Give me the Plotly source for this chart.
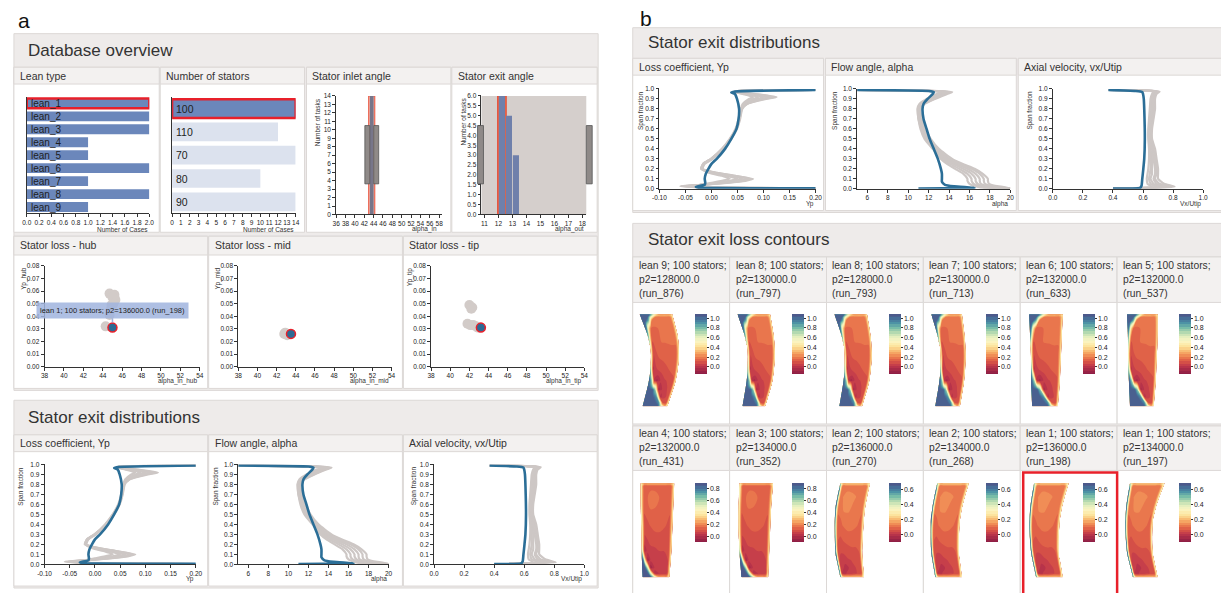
import numpy as np
import plotly.graph_objects as go

W, H = 1221, 593
FONT = "Liberation Sans, Arial, Helvetica, sans-serif"
TXT = "#333333"
RED = "#e8202a"

# ============================ DATA ============================
lean_types = ["lean_1", "lean_2", "lean_3", "lean_4", "lean_5", "lean_6", "lean_7", "lean_8", "lean_9"]
lean_case_counts = [2, 2, 2, 1, 1, 2, 1, 2, 1]
selected_lean = "lean_1"

stator_numbers = ["100", "110", "70", "80", "90"]
stator_case_counts = [14, 12, 14, 10, 14]
selected_stators = "100"

inlet_bin_centres = [43.6]
inlet_task_counts = [14]
exit_bin_centres = [12.25, 12.75, 13.25]
exit_task_counts = [6, 5, 3]
selected_exit_bin = 12.25

hub_alpha_in = [44.3, 44.7, 45.2, 45.3, 44.9, 44.7, 44.8, 45.0, 45.1]
hub_yp = [0.032, 0.058, 0.057, 0.053, 0.049, 0.041, 0.045, 0.055, 0.050]
mid_alpha_in = [42.8, 43.0, 43.2, 42.9, 43.1, 43.3]
mid_yp = [0.026, 0.026, 0.026, 0.027, 0.025, 0.026]
tip_alpha_in = [42.0, 42.3, 42.2, 41.8, 42.1, 42.4, 42.7, 42.9]
tip_yp = [0.049, 0.047, 0.046, 0.034, 0.033, 0.033, 0.032, 0.031]
sel_hub = [45.0, 0.031]
sel_mid = [43.5, 0.026]
sel_tip = [43.2, 0.031]
sel_label = "lean 1; 100 stators; p2=136000.0 (run_198)"

# Stator exit distributions (span fraction vs quantity)
yp_span_sel = [0.005, 0.012, 0.02, 0.04, 0.06, 0.1, 0.15, 0.2, 0.25, 0.3, 0.4, 0.5, 0.6, 0.7, 0.8, 0.9, 0.95, 0.965, 0.975, 0.99]
yp_sel = [0.20, -0.025, -0.03, -0.013, -0.012, -0.013, -0.011, -0.006, 0.0, 0.01, 0.026, 0.038, 0.048, 0.052, 0.053, 0.049, 0.045, 0.038, 0.045, 0.20]
yp_span_oth = [0.003, 0.015, 0.025, 0.04, 0.06, 0.08, 0.1, 0.13, 0.16, 0.2, 0.25, 0.3, 0.4, 0.5, 0.6, 0.7, 0.8, 0.85, 0.9, 0.92, 0.95, 0.97, 0.98, 0.99]
yp_oth = [
    [0.20, -0.02, -0.06, -0.02, 0.03, 0.065, 0.08, 0.045, 0.01, -0.02, -0.015, 0.0, 0.022, 0.037, 0.048, 0.054, 0.058, 0.068, 0.105, 0.125, 0.085, 0.045, 0.05, 0.20],
    [0.20, -0.02, -0.055, -0.02, 0.025, 0.06, 0.075, 0.045, 0.01, -0.018, -0.013, 0.002, 0.023, 0.038, 0.049, 0.055, 0.059, 0.068, 0.10, 0.12, 0.08, 0.045, 0.05, 0.20],
    [0.20, -0.02, -0.05, -0.02, 0.02, 0.055, 0.07, 0.04, 0.005, -0.02, -0.016, -0.001, 0.021, 0.036, 0.047, 0.053, 0.057, 0.065, 0.095, 0.11, 0.075, 0.045, 0.05, 0.20],
    [0.20, -0.02, -0.045, -0.02, 0.015, 0.045, 0.06, 0.035, 0.005, -0.017, -0.014, 0.001, 0.022, 0.037, 0.048, 0.054, 0.058, 0.064, 0.088, 0.10, 0.07, 0.045, 0.05, 0.20],
    [0.20, -0.02, -0.04, -0.02, 0.01, 0.035, 0.05, 0.03, 0.0, -0.018, -0.015, 0.0, 0.021, 0.036, 0.047, 0.053, 0.057, 0.062, 0.08, 0.09, 0.065, 0.045, 0.05, 0.20],
    [0.20, -0.02, -0.035, -0.02, 0.0, 0.02, 0.035, 0.02, -0.005, -0.019, -0.016, -0.001, 0.02, 0.035, 0.046, 0.052, 0.056, 0.06, 0.072, 0.08, 0.06, 0.045, 0.05, 0.20],
]

al_span_sel = [0.003, 0.01, 0.025, 0.04, 0.07, 0.1, 0.15, 0.2, 0.3, 0.4, 0.5, 0.6, 0.7, 0.8, 0.85, 0.9, 0.95, 0.97, 0.98, 0.99]
al_sel = [11.0, 16.5, 14.5, 13.6, 13.3, 13.3, 13.3, 13.2, 12.9, 12.5, 12.1, 11.8, 11.5, 11.4, 11.5, 11.9, 12.4, 12.5, 12.0, 5.0]
al_span_oth = [0.003, 0.015, 0.03, 0.05, 0.08, 0.1, 0.15, 0.2, 0.25, 0.3, 0.4, 0.5, 0.6, 0.7, 0.8, 0.85, 0.9, 0.95, 0.97, 0.98, 0.99]
al_oth = [
    [20.0, 19.5, 18.5, 17.9, 17.8, 17.8, 17.3, 16.5, 15.3, 14.3, 13.0, 12.2, 11.7, 11.3, 11.2, 11.6, 12.6, 13.8, 14.3, 13.0, 5.0],
    [20.0, 19.0, 18.0, 17.5, 17.4, 17.4, 17.0, 16.2, 15.0, 14.0, 12.8, 12.0, 11.6, 11.2, 11.1, 11.5, 12.5, 13.6, 14.1, 12.8, 5.0],
    [20.0, 18.5, 17.6, 17.1, 17.0, 17.0, 16.6, 15.8, 14.7, 13.8, 12.7, 11.9, 11.5, 11.2, 11.1, 11.4, 12.3, 13.4, 13.9, 12.6, 5.0],
    [19.5, 18.0, 17.2, 16.8, 16.6, 16.6, 16.2, 15.4, 14.4, 13.6, 12.6, 11.8, 11.4, 11.1, 11.0, 11.3, 12.1, 13.2, 13.7, 12.5, 5.0],
    [19.0, 17.5, 16.8, 16.4, 16.2, 16.2, 15.8, 15.0, 14.1, 13.4, 12.5, 11.7, 11.3, 11.0, 11.0, 11.2, 11.9, 13.0, 13.5, 12.4, 5.0],
    [18.5, 17.0, 16.4, 16.0, 15.8, 15.8, 15.4, 14.6, 13.8, 13.2, 12.4, 11.6, 11.2, 11.0, 10.9, 11.1, 11.8, 12.8, 13.3, 12.3, 5.0],
]

vx_span_sel = [0.003, 0.008, 0.03, 0.1, 0.2, 0.3, 0.5, 0.7, 0.9, 0.95, 0.97, 0.98, 0.99]
vx_sel = [0.40, 0.58, 0.59, 0.595, 0.602, 0.608, 0.612, 0.61, 0.605, 0.60, 0.595, 0.55, 0.37]
vx_span_oth = [0.003, 0.02, 0.05, 0.1, 0.15, 0.2, 0.3, 0.4, 0.5, 0.6, 0.7, 0.8, 0.9, 0.95, 0.975, 0.985, 0.99]
vx_oth = [
    [0.40, 0.81, 0.74, 0.70, 0.70, 0.70, 0.69, 0.68, 0.66, 0.66, 0.67, 0.68, 0.68, 0.69, 0.71, 0.62, 0.37],
    [0.40, 0.78, 0.71, 0.68, 0.69, 0.69, 0.68, 0.67, 0.655, 0.655, 0.665, 0.67, 0.675, 0.685, 0.70, 0.61, 0.37],
    [0.40, 0.75, 0.69, 0.67, 0.68, 0.68, 0.67, 0.66, 0.65, 0.65, 0.66, 0.665, 0.67, 0.68, 0.69, 0.61, 0.37],
    [0.40, 0.72, 0.67, 0.65, 0.66, 0.66, 0.66, 0.65, 0.645, 0.645, 0.655, 0.66, 0.665, 0.675, 0.685, 0.60, 0.37],
    [0.40, 0.69, 0.65, 0.64, 0.645, 0.65, 0.65, 0.645, 0.64, 0.64, 0.65, 0.655, 0.66, 0.67, 0.68, 0.60, 0.37],
    [0.40, 0.66, 0.63, 0.625, 0.63, 0.635, 0.64, 0.64, 0.635, 0.635, 0.64, 0.645, 0.65, 0.66, 0.675, 0.60, 0.37],
]

# Stator exit loss contours
case_lean = [9, 8, 8, 7, 6, 5, 4, 3, 2, 2, 1, 1]
case_p2 = [128000.0, 130000.0, 128000.0, 130000.0, 132000.0, 132000.0,
           132000.0, 134000.0, 136000.0, 134000.0, 136000.0, 134000.0]
case_run = ["run_876", "run_797", "run_793", "run_713", "run_633", "run_537",
            "run_431", "run_352", "run_270", "run_268", "run_198", "run_197"]
case_stators = 100
selected_run = "run_198"
case_field = ["corner"] * 6 + ["hub"] * 2 + ["clean"] * 4

pitch = [0, 0.04, 0.1, 0.2, 0.3, 0.45, 0.6, 0.75, 0.9, 0.96, 1.0]
span = [0, 0.04, 0.1, 0.18, 0.28, 0.4, 0.55, 0.7, 0.85, 0.93, 0.97, 1.0]
loss_corner = [
    [1.05, 1.05, 1.05, 1.05, 1.05, 1.05, 1.05, 0.6, 0.3, 0.4, 0.55],
    [1.05, 1.05, 1.05, 1.05, 1.05, 1.05, 0.9, 0.1, 0.08, 0.3, 0.5],
    [1.05, 1.05, 1.05, 1.05, 1.05, 0.9, 0.0, 0.05, 0.08, 0.3, 0.5],
    [1.05, 1.05, 1.05, 1.05, 0.8, -0.05, 0.03, 0.06, 0.09, 0.3, 0.5],
    [1.05, 0.95, 0.75, 0.0, -0.05, 0.03, 0.06, 0.07, 0.1, 0.3, 0.5],
    [0.9, 0.5, 0.0, 0.05, 0.07, 0.08, 0.1, 0.12, 0.13, 0.3, 0.5],
    [0.6, 0.3, 0.06, 0.1, 0.12, 0.13, 0.14, 0.15, 0.15, 0.3, 0.5],
    [0.8, 0.45, 0.1, 0.14, 0.15, 0.16, 0.16, 0.16, 0.16, 0.3, 0.5],
    [1.05, 0.95, 0.5, 0.14, 0.15, 0.16, 0.16, 0.16, 0.16, 0.3, 0.5],
    [1.05, 1.05, 1.05, 0.8, 0.2, 0.16, 0.16, 0.16, 0.16, 0.3, 0.5],
    [1.05, 1.05, 1.05, 1.05, 0.6, 0.2, 0.2, 0.2, 0.2, 0.3, 0.5],
    [1.05, 1.05, 1.05, 1.05, 1.05, 0.6, 0.35, 0.35, 0.35, 0.4, 0.5],
]
loss_hub = [
    [0.88, 0.88, 0.88, 0.88, 0.85, 0.5, 0.25, 0.25, 0.25, 0.3, 0.4],
    [0.88, 0.88, 0.88, 0.85, 0.5, 0.02, 0.03, 0.04, 0.05, 0.25, 0.4],
    [0.88, 0.88, 0.85, 0.5, -0.04, 0.04, 0.05, 0.05, 0.06, 0.25, 0.4],
    [0.88, 0.8, 0.4, -0.04, 0.04, 0.05, 0.06, 0.06, 0.07, 0.25, 0.4],
    [0.65, 0.35, 0.0, 0.05, 0.06, 0.06, 0.07, 0.07, 0.08, 0.25, 0.4],
    [0.5, 0.3, 0.06, 0.07, 0.08, 0.09, 0.09, 0.09, 0.09, 0.25, 0.4],
    [0.5, 0.3, 0.09, 0.1, 0.11, 0.12, 0.12, 0.11, 0.1, 0.25, 0.4],
    [0.5, 0.3, 0.11, 0.12, 0.14, 0.14, 0.13, 0.12, 0.11, 0.25, 0.4],
    [0.5, 0.3, 0.12, 0.14, 0.17, 0.16, 0.14, 0.13, 0.12, 0.25, 0.4],
    [0.5, 0.3, 0.12, 0.13, 0.14, 0.14, 0.13, 0.12, 0.12, 0.25, 0.4],
    [0.5, 0.3, 0.12, 0.12, 0.12, 0.12, 0.12, 0.12, 0.12, 0.25, 0.4],
    [0.45, 0.35, 0.3, 0.3, 0.3, 0.3, 0.3, 0.3, 0.3, 0.35, 0.4],
]
loss_clean = [
    [0.6, 0.4, 0.25, 0.2, 0.2, 0.2, 0.2, 0.2, 0.2, 0.25, 0.35],
    [0.65, 0.3, 0.0, -0.02, 0.0, 0.0, 0.02, 0.03, 0.04, 0.2, 0.35],
    [0.68, 0.3, 0.02, 0.0, -0.02, 0.0, 0.02, 0.03, 0.04, 0.2, 0.35],
    [0.68, 0.3, 0.03, 0.01, 0.01, 0.02, 0.03, 0.04, 0.05, 0.2, 0.35],
    [0.68, 0.3, 0.04, 0.03, 0.03, 0.04, 0.05, 0.05, 0.06, 0.2, 0.35],
    [0.68, 0.3, 0.06, 0.05, 0.06, 0.07, 0.07, 0.07, 0.07, 0.2, 0.35],
    [0.68, 0.3, 0.08, 0.08, 0.09, 0.1, 0.1, 0.09, 0.08, 0.2, 0.35],
    [0.68, 0.3, 0.09, 0.1, 0.12, 0.12, 0.11, 0.1, 0.09, 0.2, 0.35],
    [0.68, 0.3, 0.1, 0.12, 0.14, 0.13, 0.12, 0.11, 0.1, 0.2, 0.35],
    [0.68, 0.3, 0.09, 0.1, 0.11, 0.11, 0.11, 0.1, 0.1, 0.2, 0.35],
    [0.6, 0.3, 0.1, 0.1, 0.1, 0.1, 0.1, 0.1, 0.1, 0.2, 0.35],
    [0.5, 0.3, 0.25, 0.25, 0.25, 0.25, 0.25, 0.25, 0.25, 0.3, 0.35],
]
fields = {"corner": loss_corner, "hub": loss_hub, "clean": loss_clean}
field_range = {"corner": (-0.15, 1.08), "hub": (-0.10, 0.88), "clean": (-0.11, 0.68)}
field_ticks = {"corner": [0, 0.2, 0.4, 0.6, 0.8, 1.0], "hub": [0, 0.2, 0.4, 0.6, 0.8], "clean": [0, 0.2, 0.4, 0.6]}
# blade-row outline (hub -> tip) seen at the exit plane, per case
edge_span = [0, 0.25, 0.5, 0.75, 1.0]
edge_left = [[10, 16, 19, 16, 7], [13, 17, 19, 16, 8], [13, 17, 19, 16, 8], [12, 16, 18, 15, 8],
             [12, 11, 11, 10, 9], [13, 12, 11, 11, 10], [10, 9, 9, 8, 8], [12, 10, 9, 9, 10],
             [14, 9, 8, 9, 14], [12, 8, 7, 9, 14], [16, 11, 9, 10, 14], [16, 10, 8, 9, 13]]
edge_right = [[35, 43, 47, 46, 40], [36, 43, 46, 45, 41], [36, 43, 46, 45, 41], [37, 41, 43, 42, 39],
              [38, 40, 41, 42, 43], [37, 39, 40, 41, 41], [37, 39, 40, 41, 42], [39, 40, 41, 42, 44],
              [38, 36, 37, 39, 44], [39, 36, 36, 39, 46], [43, 39, 39, 42, 49], [41, 36, 35, 39, 48]]

spectral = [[0.0, "#8f1f45"], [0.12, "#bf374b"], [0.2, "#db5745"], [0.28, "#ee8150"],
            [0.36, "#f7b169"], [0.45, "#fce29a"], [0.55, "#fbf5c3"], [0.63, "#e2eebd"],
            [0.7, "#b3d9b0"], [0.78, "#78bda8"], [0.86, "#4d93a5"], [0.93, "#46729a"], [1.0, "#4c598b"]]

# ============================ HELPERS ============================
fig = go.Figure()
axes = {}
shapes = []
annots = []

AX = dict(showgrid=False, zeroline=False, showline=True, linecolor="#333", linewidth=0.8,
          ticks="outside", ticklen=3, tickwidth=0.8, tickcolor="#333", tickangle=0,
          tickfont=dict(size=6.5, color="#222", family=FONT), fixedrange=True)


def xa(n):
    return "x" if n == 1 else f"x{n}"


def ya(n):
    return "y" if n == 1 else f"y{n}"


def make_axes(n, x0, x1, ytop, ybot, xr, yr, xk=None, yk=None, visible=True):
    bx = dict(AX) if visible else dict(visible=False, fixedrange=True)
    by = dict(AX) if visible else dict(visible=False, fixedrange=True)
    bx.update(domain=[x0 / W, x1 / W], range=xr, anchor=ya(n))
    by.update(domain=[1 - ybot / H, 1 - ytop / H], range=yr, anchor=xa(n))
    if xk:
        bx.update(xk)
    if yk:
        by.update(yk)
    axes["xaxis" if n == 1 else f"xaxis{n}"] = bx
    axes["yaxis" if n == 1 else f"yaxis{n}"] = by


def box(x0, y0, x1, y1, fill, line="#dcd8d6", lw=1):
    shapes.append(dict(type="rect", xref="paper", yref="paper", x0=x0 / W, x1=x1 / W,
                       y0=1 - y1 / H, y1=1 - y0 / H, fillcolor=fill,
                       line=dict(color=line, width=lw), layer="below"))


def text(x, y, s, size=10.5, xanchor="left", yanchor="middle", color=TXT, angle=0):
    annots.append(dict(x=x / W, y=1 - y / H, xref="paper", yref="paper", text=s, showarrow=False,
                       xanchor=xanchor, yanchor=yanchor, textangle=angle,
                       font=dict(size=size, color=color, family=FONT)))


def ticks_fmt(vals, fmt):
    return dict(tickmode="array", tickvals=vals, ticktext=[fmt.format(v).replace("\u2212", "-") for v in vals])


# ============================ BACKGROUND PANELS ============================
HDR = "#f3f1f0"
CONT = "#eeebea"
box(7, 30, 598, 391, CONT)
for x0, x1 in [(7, 154), (155, 301), (303, 449), (450, 597)]:
    box(x0, 64, x1, 231, "white")
    box(x0, 64, x1, 81, HDR)
for x0, x1 in [(7, 203), (204, 400), (401, 597)]:
    box(x0, 235, x1, 389, "white")
    box(x0, 235, x1, 254, HDR)
box(7, 401, 598, 591, CONT)
for x0, x1 in [(7, 203), (204, 400), (401, 597)]:
    box(x0, 436, x1, 589, "white")
    box(x0, 436, x1, 453, HDR)
box(633, 24, 1230, 211, CONT)
for x0, x1 in [(633, 826), (828, 1021), (1023, 1230)]:
    box(x0, 55, x1, 209, "white")
    box(x0, 55, x1, 72, HDR)
box(633, 222, 1230, 600, CONT)
for c in range(6):
    x0 = 633 + 98 * c
    x1 = x0 + 98 if c < 5 else 1230
    box(x0, 256, x1, 425, "white")
    box(x0, 256, x1, 302, HDR)
    box(x0, 427, x1, 600, "white")
    box(x0, 427, x1, 472, HDR)

# ============================ TITLES ============================
text(9, 17, "a", size=21, color="#111")
text(638, 15, "b", size=21, color="#111")
text(19, 47, "Database overview", size=17)
text(19, 418, "Stator exit distributions", size=17)
text(646, 39, "Stator exit distributions", size=17)
text(646, 238, "Stator exit loss contours", size=17)
for x, s in [(11, "Lean type"), (159, "Number of stators"), (307, "Stator inlet angle"), (454, "Stator exit angle")]:
    text(x, 73, s)
for x, s in [(11, "Stator loss - hub"), (208, "Stator loss - mid"), (405, "Stator loss - tip")]:
    text(x, 244, s)
dist_titles = ["Loss coefficient, Yp", "Flow angle, alpha", "Axial velocity, vx/Utip"]
for x, s in zip([11, 208, 405], dist_titles):
    text(x, 444, s)
for x, s in zip([637, 832, 1027], dist_titles):
    text(x, 64, s)

# ============================ LEAN TYPE ============================
make_axes(1, 20, 144, 94, 212, [0, 2.0], [8.5, -0.5],
          xk=ticks_fmt([i / 5 for i in range(11)], "{:.1f}"),
          yk=dict(type="category", ticks="", showticklabels=False))
fig.add_trace(go.Bar(
    y=lean_types, x=lean_case_counts, orientation="h", width=0.76,
    marker=dict(color="#6b87bb",
                line=dict(color=[RED if l == selected_lean else "rgba(0,0,0,0)" for l in lean_types],
                          width=[2.5 if l == selected_lean else 0 for l in lean_types])),
    xaxis=xa(1), yaxis=ya(1), hoverinfo="skip"))
for i, l in enumerate(lean_types):
    annots.append(dict(x=0, y=i, xref="x", yref="y", text=l, showarrow=False, xanchor="left",
                       yanchor="middle", xshift=2, font=dict(size=10, color="#1e1e1e", family=FONT)))
text(145, 228, "Number of Cases", size=6.5, xanchor="right")

# ============================ NUMBER OF STATORS ============================
make_axes(2, 167, 292, 94, 212, [0, 14], [4.5, -0.5],
          xk=dict(tickmode="linear", tick0=0, dtick=1),
          yk=dict(type="category", ticks="", showticklabels=False))
fig.add_trace(go.Bar(
    y=stator_numbers, x=stator_case_counts, orientation="h", width=0.8,
    marker=dict(color=["#6b87bb" if s == selected_stators else "#dce2ee" for s in stator_numbers],
                line=dict(color=[RED if s == selected_stators else "rgba(0,0,0,0)" for s in stator_numbers],
                          width=[2.5 if s == selected_stators else 0 for s in stator_numbers])),
    xaxis=xa(2), yaxis=ya(2), hoverinfo="skip"))
for i, s in enumerate(stator_numbers):
    annots.append(dict(x=0, y=i, xref="x2", yref="y2", text=s, showarrow=False, xanchor="left",
                       yanchor="middle", xshift=2, font=dict(size=10.5, color="#222", family=FONT)))
text(292, 228, "Number of Cases", size=6.5, xanchor="right")

# ============================ INLET ANGLE ============================
make_axes(3, 333, 440, 93, 213, [36, 58.6], [0, 14],
          xk=dict(tickmode="linear", tick0=36, dtick=2),
          yk=dict(tickmode="linear", tick0=0, dtick=1))
fig.add_trace(go.Bar(x=inlet_bin_centres, y=inlet_task_counts, width=1.3,
                     marker=dict(color="rgba(240,130,110,0.55)", line=dict(color="#e8503a", width=1)),
                     xaxis=xa(3), yaxis=ya(3), hoverinfo="skip"))
fig.add_trace(go.Bar(x=inlet_bin_centres, y=inlet_task_counts, width=0.8,
                     marker=dict(color="#77768a", line=dict(width=0)),
                     xaxis=xa(3), yaxis=ya(3), hoverinfo="skip"))
text(437, 228, "alpha_in", size=6.5, xanchor="right")
text(315, 93, "Number of tasks", size=6.5, angle=-90, xanchor="center", yanchor="top")
for hx0, hx1 in [(362, 367), (371, 376)]:
    shapes.append(dict(type="rect", xref="paper", yref="paper", x0=hx0 / W, x1=hx1 / W,
                       y0=1 - 182 / H, y1=1 - 123 / H, fillcolor="#8f8a88",
                       line=dict(color="#555", width=0.8), layer="above"))

# ============================ EXIT ANGLE ============================
make_axes(4, 480, 586, 93, 213, [10.79, 18.28], [0, 6.0],
          xk=dict(tickmode="linear", tick0=11, dtick=1),
          yk=ticks_fmt([i / 2 for i in range(13)], "{:.1f}"))
shapes.append(dict(type="rect", xref="x4 domain", yref="y4 domain", x0=0, x1=1, y0=0, y1=1,
                   fillcolor="#d5cfcc", line=dict(width=0), layer="below"))
sel_idx = exit_bin_centres.index(selected_exit_bin)
fig.add_trace(go.Bar(x=[exit_bin_centres[sel_idx]], y=[exit_task_counts[sel_idx]], width=0.62,
                     marker=dict(color="rgba(232,85,50,0.85)", line=dict(color="#e8503a", width=1)),
                     xaxis=xa(4), yaxis=ya(4), hoverinfo="skip"))
fig.add_trace(go.Bar(x=exit_bin_centres, y=exit_task_counts, width=0.44,
                     marker=dict(color="#6f80ab", line=dict(width=0)),
                     xaxis=xa(4), yaxis=ya(4), hoverinfo="skip"))
text(586, 228, "alpha_out", size=6.5, xanchor="right")
text(462, 93, "Number of tasks", size=6.5, angle=-90, xanchor="center", yanchor="top")
for hx0, hx1 in [(476, 482), (586, 592)]:
    shapes.append(dict(type="rect", xref="paper", yref="paper", x0=hx0 / W, x1=hx1 / W,
                       y0=1 - 182 / H, y1=1 - 123 / H, fillcolor="#8f8a88",
                       line=dict(color="#555", width=0.8), layer="above"))

# ============================ STATOR LOSS SCATTERS ============================
loss_sets = [(5, 38, 195, hub_alpha_in, hub_yp, sel_hub, "alpha_in_hub", "Yp_hub", 17),
             (6, 234, 389, mid_alpha_in, mid_yp, sel_mid, "alpha_in_mid", "Yp_mid", 213),
             (7, 429, 584, tip_alpha_in, tip_yp, sel_tip, "alpha_in_tip", "Yp_tip", 408)]
for n, x0, x1, ax_, ay_, sel, xt, yt, ytx in loss_sets:
    make_axes(n, x0, x1, 265, 367, [38, 54], [0, 0.08],
              xk=dict(tickmode="linear", tick0=38, dtick=2),
              yk=ticks_fmt([i / 100 for i in range(9)], "{:.2f}"))
    fig.add_trace(go.Scatter(x=ax_, y=ay_, mode="markers",
                             marker=dict(size=10, color="#d2cbc8", line=dict(width=0)),
                             xaxis=xa(n), yaxis=ya(n), hoverinfo="skip"))
    fig.add_trace(go.Scatter(x=[sel[0]], y=[sel[1]], mode="markers",
                             marker=dict(size=9, color="#2b6a94", line=dict(color=RED, width=1.5)),
                             xaxis=xa(n), yaxis=ya(n), hoverinfo="skip"))
    text(x1 - 1, 382, xt, size=6.5, xanchor="right")
    text(ytx, 265, yt, size=6.5, angle=-90, xanchor="center", yanchor="top")
annots.append(dict(x=sel_hub[0], y=sel_hub[1], xref="x5", yref="y5", text=sel_label, showarrow=True,
                   arrowhead=0, arrowwidth=1.5, arrowcolor="rgba(150,172,220,0.9)", ax=0, ay=-17,
                   standoff=5, bgcolor="rgba(160,180,222,0.85)", borderpad=3,
                   font=dict(size=7.5, color="#222", family=FONT)))

# ============================ STATOR EXIT DISTRIBUTIONS ============================
GRAY = "#cdc7c5"
BLUE = "#2b6e97"
dist_specs = [
    (yp_span_oth, yp_oth, yp_span_sel, yp_sel, [-0.10, 0.20],
     ticks_fmt([-0.10, -0.05, 0.0, 0.05, 0.10, 0.15, 0.20], "{:.2f}"), "Yp"),
    (al_span_oth, al_oth, al_span_sel, al_sel, [5, 20],
     dict(tickmode="linear", tick0=6, dtick=2), "alpha"),
    (vx_span_oth, vx_oth, vx_span_sel, vx_sel, [0, 1.0],
     ticks_fmt([0, 0.2, 0.4, 0.6, 0.8, 1.0], "{:.1f}"), "Vx/Utip"),
]
dist_layouts = [
    [(8, 38, 191, 466, 567, 14), (9, 234, 386, 466, 567, 211), (10, 432, 584, 466, 567, 412)],
    [(11, 660, 818, 86, 187, 642), (12, 860, 1015, 86, 187, 838), (13, 1058, 1210, 86, 187, 1035)],
]
span_ticks = ticks_fmt([i / 10 for i in range(11)], "{:.1f}")
for group in dist_layouts:
    for (n, x0, x1, yt, yb, ytx), spec in zip(group, dist_specs):
        s_oth, v_oth, s_sel, v_sel, xr, xtk, xtitle = spec
        make_axes(n, x0, x1, yt, yb, xr, [0, 1.0], xk=xtk, yk=span_ticks)
        for curve in v_oth:
            fig.add_trace(go.Scatter(x=curve, y=s_oth, mode="lines",
                                     line=dict(color=GRAY, width=2.2, shape="spline", smoothing=0.5),
                                     xaxis=xa(n), yaxis=ya(n), hoverinfo="skip"))
        fig.add_trace(go.Scatter(x=v_sel, y=s_sel, mode="lines",
                                 line=dict(color=BLUE, width=2.6, shape="spline", smoothing=0.5),
                                 xaxis=xa(n), yaxis=ya(n), hoverinfo="skip"))
        text(x1, yb + 15, xtitle, size=6.5, xanchor="right")
        text(ytx, yt, "Span fraction", size=6.5, angle=-90, xanchor="center", yanchor="top")

# ============================ LOSS CONTOURS ============================
for k in range(12):
    n = 14 + k
    col, row = k % 6, k // 6
    cx0 = 633 + 98 * col
    ytop, ybot = (314, 407) if row == 0 else (485, 580)
    make_axes(n, cx0, cx0 + 98, ytop, ybot, [0, 98], [0, 1], visible=False)
    L = np.interp(span, edge_span, edge_left[k])
    R = np.interp(span, edge_span, edge_right[k])
    X = [[float(L[j] + a * (R[j] - L[j])) for a in pitch] for j in range(len(span))]
    Y = [[float(b)] * len(pitch) for b in span]
    cid = f"c{k}"
    hidden = dict(showgrid=False, showline=False, showticklabels="none", startline=False,
                  endline=False, minorgridcount=0, gridcolor="rgba(0,0,0,0)",
                  linecolor="rgba(0,0,0,0)", smoothing=1)
    fig.add_trace(go.Carpet(a=pitch, b=span, x=X, y=Y, carpet=cid, aaxis=hidden, baxis=hidden,
                            xaxis=xa(n), yaxis=ya(n)))
    ftype = case_field[k]
    zmin, zmax = field_range[ftype]
    step = (zmax - zmin) / 26
    cb_len = 60 if row == 0 else 59
    fig.add_trace(go.Contourcarpet(
        a=pitch, b=span, z=fields[ftype], carpet=cid, autocontour=False,
        contours=dict(start=zmin + step * 0.5, end=zmax, size=step, coloring="fill", showlines=False),
        line=dict(width=0), colorscale=spectral, zauto=False, zmin=zmin, zmax=zmax,
        colorbar=dict(x=(cx0 + 63) / W, xanchor="left", y=1 - ytop / H, yanchor="top",
                      len=cb_len, lenmode="pixels", thickness=12, thicknessmode="pixels",
                      xpad=0, ypad=0, outlinewidth=0, ticks="outside", ticklen=2, tickwidth=0.7,
                      tickcolor="#333", tickvals=field_ticks[ftype], tickformat=".1f",
                      tickfont=dict(size=7, color="#222", family=FONT)),
        xaxis=xa(n), yaxis=ya(n)))
    lines = [f"lean {case_lean[k]}; {case_stators} stators;", f"p2={case_p2[k]:.1f}", f"({case_run[k]})"]
    base_y = 265 if row == 0 else 435
    for i, s in enumerate(lines):
        text(cx0 + 4, base_y + 14 * i, s, size=10.3)
    if case_run[k] == selected_run:
        shapes.append(dict(type="rect", xref="paper", yref="paper", x0=(cx0 + 3) / W, x1=(cx0 + 98) / W,
                           y0=1 - 610 / H, y1=1 - 474 / H, fillcolor="rgba(0,0,0,0)",
                           line=dict(color=RED, width=2.5), layer="above"))

fig.update_layout(width=W, height=H, margin=dict(l=0, r=0, t=0, b=0),
                  paper_bgcolor="white", plot_bgcolor="rgba(0,0,0,0)",
                  showlegend=False, barmode="overlay", shapes=shapes, annotations=annots,
                  font=dict(family=FONT, color=TXT), **axes)
fig.write_html("out.html", config={"displayModeBar": False},
               post_script="document.body.style.margin='0px';document.body.style.overflow='hidden';")
